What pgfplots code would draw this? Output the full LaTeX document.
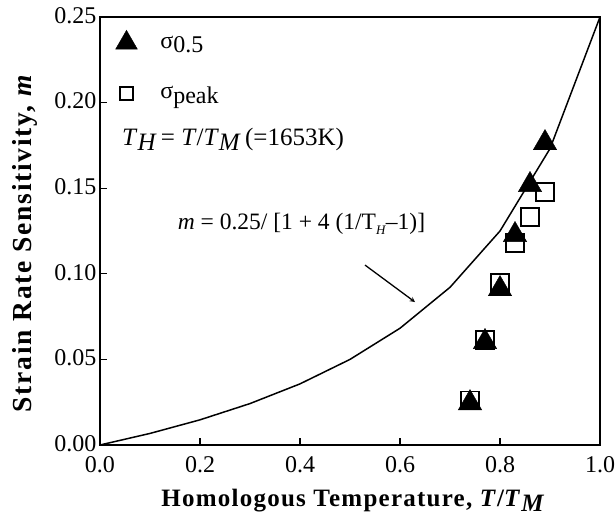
\documentclass[border=0pt]{standalone}
\usepackage{fontspec}
\setmainfont{Liberation Serif}
\newfontfamily\lblfont{Liberation Serif}[LetterSpace=5.0]
\newfontfamily\ylblfont{Liberation Serif}[LetterSpace=6.5]
\usepackage{pgfplots}
\pgfplotsset{compat=1.18}
\begin{document}
\begin{tikzpicture}
\begin{axis}[
  name=ax,
  scale only axis,
  width=500bp, height=428bp,
  xmin=0, xmax=1, ymin=0, ymax=0.25,
  xtick={0,0.2,0.4,0.6,0.8,1.0},
  ytick={0,0.05,0.10,0.15,0.20,0.25},
  xtick pos=bottom, ytick pos=left,
  tick align=inside,
  major tick length=7bp,
  axis line style={line width=1.8pt},
  tick style={line width=1.2pt, black},
  /pgf/number format/assume math mode=true,
  x tick label style={yshift=-8bp},
  y tick label style={yshift=1.5bp},
  xticklabel style={/pgf/number format/.cd, fixed, fixed zerofill, precision=1},
  yticklabel style={/pgf/number format/.cd, fixed, fixed zerofill, precision=2},
  scaled y ticks=false,
  ticklabel style={font=\fontsize{24bp}{26bp}\selectfont},
  xlabel={\lblfont\bfseries Homologous Temperature, \textit{T}/\textit{T}\raisebox{-0.45ex}{\textit{M}}},
  ylabel={\ylblfont\bfseries Strain Rate Sensitivity, \textit{m}},
  xlabel style={font=\fontsize{25bp}{27bp}\selectfont, at={(axis description cs:0.507,0)}, anchor=base, yshift=-61bp},
  ylabel style={font=\fontsize{27.5bp}{29bp}\selectfont, at={(axis description cs:-0.136,0.472)}, anchor=base},
  legend style={at={(axis cs:0.025,0.2435)}, anchor=north west, draw=none, fill=none,
    font=\fontsize{24bp}{26bp}\selectfont, row sep=33bp},
  legend cell align=left,
]
\addlegendimage{only marks, mark=triangle*, mark size=12.5bp, fill=black, draw=black}
\addlegendentry{\hspace{21bp}σ\raisebox{-0.4ex}{0.5}}
\addlegendimage{only marks, mark=square, mark size=6.5bp, line width=1.4pt, black}
\addlegendentry{\hspace{21bp}σ\raisebox{-0.4ex}{peak}}
\addplot[only marks, mark=triangle*, mark size=13.5bp, fill=black, draw=black, forget plot]
 coordinates {(0.74,0.0245)(0.77,0.0602)(0.80,0.0911)(0.83,0.1227)(0.86,0.1519)(0.89,0.1764)};
\addplot[only marks, mark=square, mark size=9bp, line width=1.5pt, black, forget plot]
 coordinates {(0.74,0.026)(0.77,0.0613)(0.80,0.0946)(0.83,0.118)(0.86,0.1332)(0.89,0.1478)};
\addplot[black, line width=1.5pt, no marks, forget plot]
 coordinates {(0,0)(0.1,0.00676)(0.2,0.0147)(0.3,0.0242)(0.4,0.0357)(0.5,0.05)(0.6,0.0682)(0.7,0.0921)(0.8,0.125)(0.9,0.1731)(1.0,0.25)};
\node[anchor=base west, font=\fontsize{25bp}{27bp}\selectfont, inner sep=0pt] at (axis cs:0.044,0.1752)
 {\textit{T}\raisebox{-0.45ex}{\textit{H}}\,= \textit{T}/\textit{T}\raisebox{-0.45ex}{\textit{M}}\,(=1653K)};
\node[anchor=base, font=\fontsize{23.5bp}{25bp}\selectfont, inner sep=0pt] at (axis cs:0.403,0.1256)
 {\textit{m} = 0.25/ [1 + 4 (1/T\raisebox{-0.45ex}{\fontsize{13bp}{14bp}\selectfont\textit{H}}--1)]};
\draw[-stealth, line width=1.3pt] (axis cs:0.53,0.1051) -- (axis cs:0.63,0.0835);
\end{axis}
\pgfresetboundingbox
\path ([shift={(-100bp,-73bp)}]ax.south west) rectangle ([shift={(16bp,17bp)}]ax.north east);
\end{tikzpicture}
\end{document}
